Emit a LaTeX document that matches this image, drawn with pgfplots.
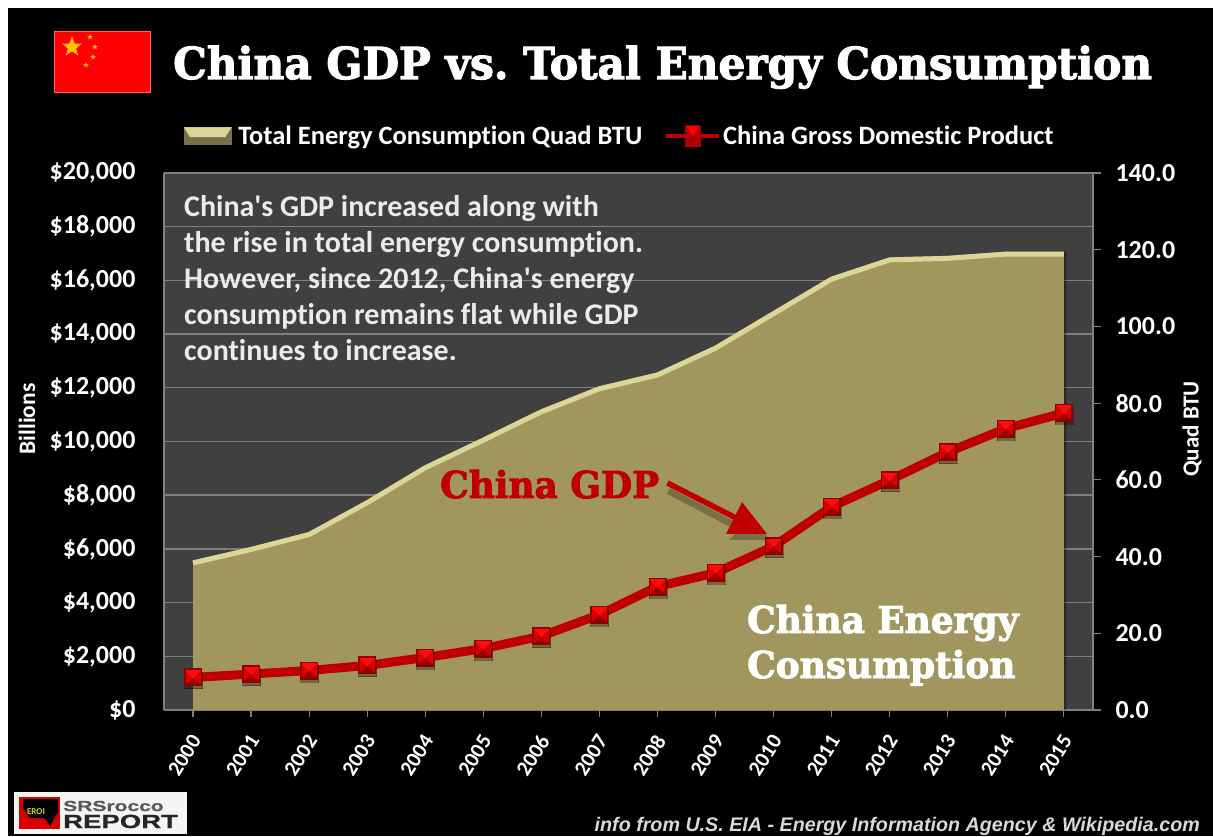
\documentclass[border=0pt]{standalone}
\usepackage{fontspec}
\usepackage{pgfplots}
\usepackage{pgfplotstable}
\pgfplotsset{compat=1.18}
\usetikzlibrary{shapes.geometric}
\setmainfont{Carlito}[Ligatures=NoCommon]
\newfontfamily\slab[FakeBold=2.5,FakeStretch=0.96]{DejaVu Serif Bold}
\newfontfamily\slabb[FakeBold=2.5,FakeStretch=0.97]{DejaVu Serif Bold}
\newfontfamily\logofont[FakeBold=1,FakeStretch=1.45]{Liberation Sans Bold}
\newfontfamily\srcfont{Liberation Sans Bold Italic}
\frenchspacing
\definecolor{plotbg}{HTML}{404040}
\definecolor{gridc}{HTML}{7F7F7F}
\definecolor{areac}{HTML}{A0965E}
\definecolor{arealight}{HTML}{DDD498}
\definecolor{gdpred}{HTML}{C00000}
\definecolor{flagred}{HTML}{FF0000}
\definecolor{flagyel}{HTML}{FFC000}
\pgfdeclareplotmark{bev}{%
  \pgfsetlinewidth{0pt}%
  \fill[black,opacity=.3] (-8.5pt,-11.5pt) rectangle (9.5pt,5pt);
  \fill[red!55!black] (-8.5pt,-8.5pt) rectangle (8.5pt,8.5pt);
  \fill[red!85!black] (-7pt,-7pt) rectangle (7pt,7pt);
  \fill[red!95!white] (-7pt,7pt) -- (7pt,7pt) -- (0pt,0pt) -- cycle;
  \fill[red!60!black] (-7pt,-7pt) -- (7pt,-7pt) -- (0pt,-1pt) -- cycle;
}
\pgfplotstableread{
year gdp energy
2000 1211 39.0
2001 1339 42.5
2002 1471 46.4
2003 1660 54.7
2004 1955 63.8
2005 2286 71.0
2006 2752 78.4
2007 3552 84.4
2008 4598 88.0
2009 5110 95.0
2010 6101 104.0
2011 7573 113.0
2012 8561 118.0
2013 9607 118.4
2014 10482 119.5
2015 11065 119.5
}\chinadata
\pgfplotsset{base/.style={
  at={(164pt,126pt)},anchor=south west,scale only axis,
  width=929pt,height=537pt,xmin=1999.5,xmax=2015.5,clip=false}}
\begin{document}
\begin{tikzpicture}
\useasboundingbox (0,0) rectangle (1213pt,836pt);
\fill[white] (0,0) rectangle (1213pt,836pt);
\fill[black] (8pt,0) rectangle (1213pt,828pt);
% background axis: left scale, grid, years
\begin{axis}[base,
  ymin=0,ymax=20000,
  axis background/.style={fill=plotbg},
  axis line style={gridc,line width=1.5pt},
  axis x line*=bottom, axis y line*=left,
  ymajorgrids,grid style={gridc,line width=1.4pt},
  xtick={2000,...,2015},ytick={0,2000,...,20000},
  xtick align=outside,
  xtick style={gridc,line width=1.2pt},ytick style={draw=none},
  major tick length=7pt,
  scaled y ticks=false,
  /pgf/number format/assume math mode=true,
  x tick label style={/pgf/number format/1000 sep={},rotate=58,anchor=east,
     font=\bfseries\fontsize{21.5}{24}\selectfont,text=white,xshift=-11.8pt,yshift=-13.2pt},
  yticklabel={\$\pgfmathprintnumber[assume math mode=true,1000 sep={,}]{\tick}},
  y tick label style={font=\bfseries\fontsize{26}{28}\selectfont,text=white,anchor=east,xshift=-25pt},
]
\end{axis}
% area: right scale
\begin{axis}[base,
  ymin=0,ymax=140,
  axis x line=none,axis y line*=right,
  axis line style={gridc,line width=1.5pt,-},
  ytick={0,20,...,140},
  ytick align=outside,ytick style={gridc,line width=1.2pt},major tick length=8pt,
  /pgf/number format/assume math mode=true,
  yticklabel={\pgfmathprintnumber[assume math mode=true,fixed,fixed zerofill,precision=1]{\tick}},
  y tick label style={font=\bfseries\fontsize{26}{28}\selectfont,text=white,anchor=west,xshift=11pt},
]
\addplot[draw=none,fill=black,fill opacity=.35,xshift=2.5pt] table[x=year,y=energy]{\chinadata} \closedcycle;
\addplot[draw=none,fill=areac] table[x=year,y=energy]{\chinadata} \closedcycle;
\addplot[arealight,line width=5pt,yshift=-2.5pt] table[x=year,y=energy]{\chinadata};
\end{axis}
% GDP: left scale
\begin{axis}[base,
  ymin=0,ymax=20000,
  axis x line=none,axis y line=none,
  legend style={at={(0.0215,1.0692)},anchor=west,draw=none,fill=none,text=white,
    font=\bfseries\fontsize{26.5}{28}\selectfont,inner sep=0pt,outer sep=0pt,
    /tikz/every even column/.style={column sep=20pt}},
  legend columns=2,legend cell align=left,
]
\addlegendimage{legend image code/.code={
  \fill[areac!75!black] (0pt,-8.5pt) rectangle (47pt,8.5pt);
  \fill[arealight] (6pt,-1pt) -- (41pt,-1pt) -- (47pt,8.5pt) -- (0pt,8.5pt) -- cycle;}}
\addlegendentry{\hspace*{5pt}Total Energy Consumption Quad BTU}
\addlegendimage{legend image code/.code={
  \draw[gdpred,line width=4pt] (0pt,0pt) -- (53pt,0pt);
  \fill[red!70!black] (19pt,-10pt) rectangle (34pt,10pt);
  \fill[red] (20pt,10pt) -- (33pt,10pt) -- (26.5pt,0pt) -- cycle;}}
\addlegendentry{China Gross Domestic Product}
\addplot[gdpred,line width=9pt,line join=round] table[x=year,y=gdp]{\chinadata};
\addplot[forget plot,only marks,line width=0pt,mark=bev,mark size=8.5pt] table[x=year,y=gdp]{\chinadata};
\end{axis}
% annotations, in reference pixels
\begin{scope}[x=1pt,y=-1pt,shift={(0pt,836pt)}]
% flag
\fill[flagred] (54,31) rectangle (151,93);
\draw[red!60!white,line width=1pt] (54.5,31.5) rectangle (150.5,92.5);
\node[star,star points=5,star point ratio=2.4,fill=flagyel,inner sep=0,minimum size=21pt] at (72,47) {};
\node[star,star points=5,star point ratio=2.4,fill=flagyel,inner sep=0,minimum size=6pt] at (90,37) {};
\node[star,star points=5,star point ratio=2.4,fill=flagyel,inner sep=0,minimum size=6pt] at (95,47) {};
\node[star,star points=5,star point ratio=2.4,fill=flagyel,inner sep=0,minimum size=6pt] at (93,57) {};
\node[star,star points=5,star point ratio=2.4,fill=flagyel,inner sep=0,minimum size=6pt] at (86,65) {};
% title
\node[anchor=base west,inner sep=0,text=white,font=\slab\fontsize{44}{48}\selectfont] at (173,79) {China GDP vs. Total Energy Consumption};
% axis titles
\node[rotate=90,text=white,font=\bfseries\fontsize{23.5}{26}\selectfont,inner sep=0] at (27,419) {Billions};
\node[rotate=90,text=white,font=\bfseries\fontsize{23}{26}\selectfont,inner sep=0] at (1192,429) {Quad BTU};
% commentary
\node[anchor=north west,inner sep=0,align=left,text=white!92!black,font=\bfseries\fontsize{30}{36}\selectfont] at (184,195) {China\textquotesingle s GDP increased along with\\the rise in total energy consumption.\\However, since 2012, China\textquotesingle s energy\\consumption remains flat while GDP\\continues to increase.};
% China GDP label and arrow
\node[anchor=base west,inner sep=0,text=gdpred,font=\slabb\fontsize{37}{40}\selectfont] at (440,498) {China GDP};
\fill[black,opacity=.25] (670,488) -- (745,527) -- (745,508) -- (770,540) -- (729,540) -- (738,531) -- (667,494) -- cycle;
\draw[gdpred,line width=5.5pt] (667.5,483) -- (738,519);
\fill[gdpred] (742,502) -- (767,534) -- (726,534) -- cycle;
% energy label
\node[anchor=base west,inner sep=0,text=white,font=\slabb\fontsize{37}{40}\selectfont] at (747,633) {China Energy};
\node[anchor=base west,inner sep=0,text=white,font=\slabb\fontsize{37}{40}\selectfont] at (747,678) {Consumption};
% source
\node[anchor=base east,inner sep=0,text=white!85!black,font=\srcfont\fontsize{19.7}{22}\selectfont] at (1200,831) {info from U.S. EIA - Energy Information Agency \& Wikipedia.com};
% logo
\fill[white!96!black] (14,792) rectangle (187,834);
\fill[red!85!black] (19,797) rectangle (60,829);
\fill[black] (23,799) -- (58,799) -- (58,812) -- (50,826) -- (44,818) -- (30,818) -- (23,808) -- cycle;
\node[inner sep=0,text=yellow!85!black,font=\bfseries\fontsize{9}{10}\selectfont] at (36,812) {EROI};
\node[anchor=base west,inner sep=0,text=black!65,font=\logofont\fontsize{14.5}{15}\selectfont] at (63,811) {SRSrocco};
\node[anchor=base west,inner sep=0,text=black!85,font=\logofont\fontsize{19}{20}\selectfont] at (63,828) {REPORT};
\end{scope}
\end{tikzpicture}
\end{document}
